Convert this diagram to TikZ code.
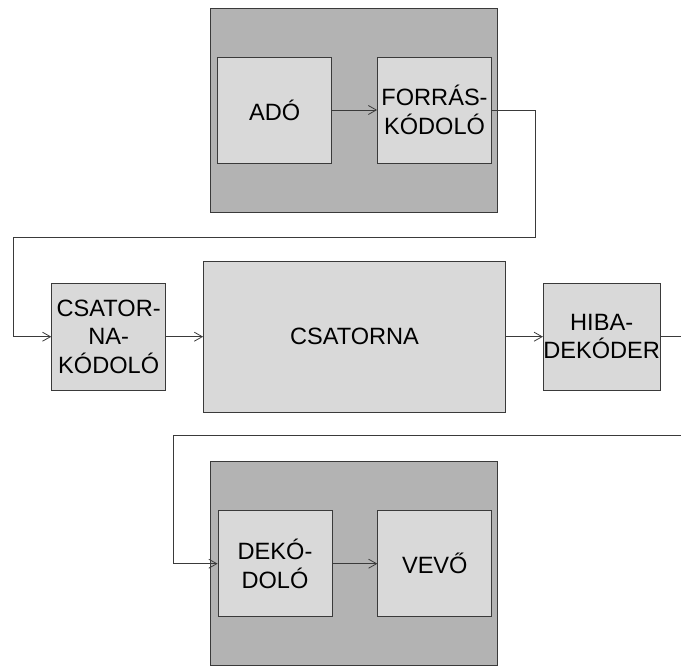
\documentclass[tikz,border=0pt]{standalone}
\usepackage{fontspec}
\setmainfont{Liberation Sans}
\usetikzlibrary{arrows.meta,positioning}
\definecolor{framegray}{HTML}{B3B3B3}
\definecolor{boxgray}{HTML}{D9D9D9}
\definecolor{linegray}{HTML}{3A3A3A}
\newcommand{\blokkfont}{\fontsize{23.6}{28.5}\selectfont}

\begin{document}
\begin{tikzpicture}[
      x=1pt,y=-1pt,
      node distance=45pt,
      keret/.style={
        draw=linegray,
        fill=framegray,
        line width=0.8pt,
        minimum width=287pt,
        minimum height=204pt,
        inner sep=0pt
      },
      blokk/.style={
        draw=linegray,
        fill=boxgray,
        line width=0.8pt,
        align=center,
        inner sep=0pt,
        minimum width=114pt,
        minimum height=106pt,
        font=\blokkfont
      },
      arr/.style={
        -{Straight Barb[length=8pt,width=9pt]},
        line width=0.8pt,
        linegray
      },
      vonal/.style={
        line width=0.8pt,
        linegray
      }
    ]

    \useasboundingbox (0,0) rectangle (681,665);

    % adó oldal
    \node[keret] (adokeret) at (354,110) {};
    \node[blokk] (ado) at (274.7,110) {ADÓ};
    \node[blokk,right=of ado] (forras) {FORRÁS-\\KÓDOLÓ};
    \draw[arr] (ado)--(forras);

    % csatorna sor
    \node[blokk,minimum height=107pt] (csk) at (108.7,336.7)
      {CSATOR-\\NA-\\KÓDOLÓ};
    \node[blokk,minimum width=302pt,minimum height=151pt,right=37pt of csk] (csatorna)
      {CSATORNA};
    \node[blokk,minimum height=107pt,right=37pt of csatorna] (hiba)
      {HIBA-\\DEKÓDER};
    \draw[arr] (csk)--(csatorna);
    \draw[arr] (csatorna)--(hiba);

    % vevő oldal
    \node[keret] (vevokeret) at (354,563.7) {};
    \node[blokk] (deko) at (275,563.7) {DEKÓ-\\DOLÓ};
    \node[blokk,right=of deko] (vevo) {VEVŐ};
    \draw[arr] (deko)--(vevo);

    % összekötők
    \coordinate (fordA) at (535,237.5);
    \coordinate (fordB) at (13,336.7);
    \draw[arr] (forras.east) -| (fordA) -| (fordB) -- (csk.west);

    \coordinate (kiJobb) at (681,336.7);
    \draw[vonal] (hiba.east) -- (kiJobb);

    \coordinate (beJobb) at (681,435);
    \coordinate (fordC) at (173,435);
    \draw[arr] (beJobb) -- (fordC) |- (deko.west);

  \end{tikzpicture}
\end{document}
